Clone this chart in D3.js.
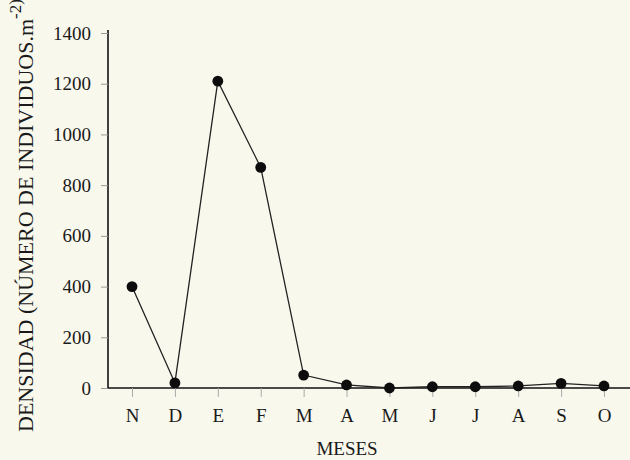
<!DOCTYPE html>
<html>
<head>
<meta charset="utf-8">
<script src="https://cdn.jsdelivr.net/npm/d3@7"></script>
<style>
  html, body { margin: 0; padding: 0; background: #f9f8ed; }
  svg { display: block; }
  text { font-family: "Liberation Serif", "DejaVu Serif", serif; fill: #1a1a1a; }
</style>
</head>
<body>
<svg id="chart" width="630" height="460"></svg>
<script>
// Monthly density (individuals per m²), November through October
const months = ["N", "D", "E", "F", "M", "A", "M", "J", "J", "A", "S", "O"];
const density = [400, 20, 1210, 870, 51, 12, 0, 5, 5, 8, 18, 8];
const yTicks = [0, 200, 400, 600, 800, 1000, 1200, 1400];

const svg = d3.select("#chart");
const plot = { left: 108, bottom: 388, top: 33, right: 630 };

const x = d3.scaleLinear().domain([0, 11]).range([132, 604]);
const y = d3.scaleLinear().domain([0, 1400]).range([plot.bottom, plot.top]);

// y axis
const yAxis = svg.append("g").attr("transform", `translate(${plot.left},0)`)
  .call(d3.axisLeft(y).tickValues(yTicks).tickSize(7).tickPadding(10).tickFormat(d3.format("d")));
yAxis.select(".domain").attr("d", `M0,${plot.top - 3}V${plot.bottom}`)
  .attr("stroke", "#111").attr("stroke-width", 1.6);
yAxis.selectAll(".tick line").attr("stroke", "#999");
yAxis.selectAll(".tick text").style("font-size", "19px").attr("fill", "#1a1a1a");

// x axis
const xAxis = svg.append("g").attr("transform", `translate(0,${plot.bottom})`)
  .call(d3.axisBottom(x).tickValues(d3.range(months.length)).tickSize(9).tickPadding(11.5)
    .tickFormat(i => months[i]));
xAxis.select(".domain").attr("d", `M${plot.left},0H${plot.right}`).attr("stroke", "#111").attr("stroke-width", 1.6);
xAxis.selectAll(".tick line").attr("stroke", "#aaa");
xAxis.selectAll(".tick text").style("font-size", "19px").attr("fill", "#1a1a1a");

// axis titles
svg.append("text")
  .attr("x", 347).attr("y", 455)
  .attr("text-anchor", "middle")
  .style("font-size", "19px")
  .text("MESES");

const yTitle = svg.append("text")
  .attr("transform", "translate(33,432) rotate(-90)")
  .style("font-size", "22px");
yTitle.append("tspan").text("DENSIDAD (NÚMERO DE INDIVIDUOS.m");
yTitle.append("tspan").attr("dy", -12).style("font-size", "17px").text("-2)");

// series line and markers
const line = d3.line().x((d, i) => x(i)).y(d => y(d));
svg.append("path")
  .datum(density)
  .attr("d", line)
  .attr("fill", "none")
  .attr("stroke", "#222")
  .attr("stroke-width", 1.3);

svg.selectAll("circle.pt")
  .data(density)
  .join("circle")
  .attr("class", "pt")
  .attr("cx", (d, i) => x(i))
  .attr("cy", d => y(d))
  .attr("r", 5.4)
  .attr("fill", "#0d0d0d");
</script>
</body>
</html>
